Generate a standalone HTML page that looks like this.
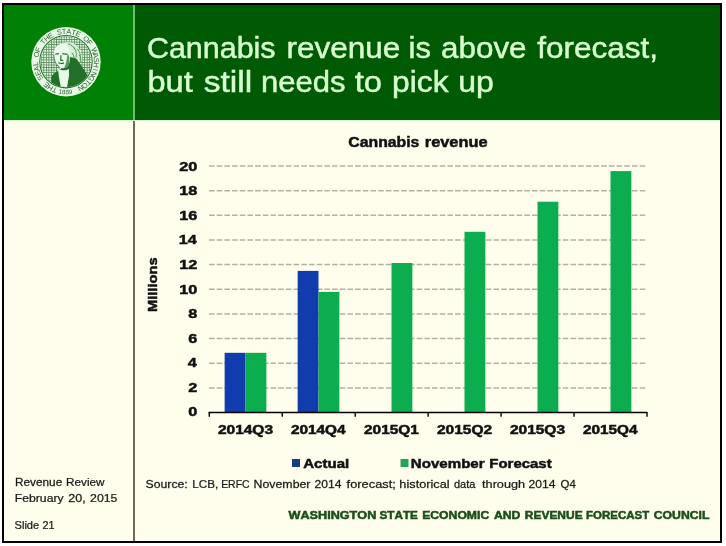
<!DOCTYPE html>
<html><head><meta charset="utf-8">
<style>
html,body{margin:0;padding:0;background:#fff;width:726px;height:546px;overflow:hidden}
svg{display:block;will-change:transform}
text{font-family:"Liberation Sans",sans-serif;font-kerning:none;font-variant-ligatures:none}
</style></head><body>
<svg width="726" height="546" viewBox="0 0 726 546">
<rect x="2" y="3" width="720" height="540" fill="#000"/>
<rect x="4" y="5" width="716" height="536" fill="#fffeec"/>
<rect x="4" y="5" width="129" height="115" fill="#008005"/>
<rect x="135" y="5" width="585" height="115" fill="#005a03"/>
<rect x="133" y="5" width="2" height="115" fill="#6abf6e"/>
<rect x="4" y="120" width="716" height="1" fill="#d4f2cc"/>
<rect x="133" y="121" width="2" height="420" fill="#706a5a"/>
<g transform="translate(66,61.7)"><defs>
<pattern id="grid" width="2.55" height="2.55" patternUnits="userSpaceOnUse" x="0.3" y="0.3"><rect width="2.55" height="2.55" fill="#407a44"/><rect x="0.65" y="0.65" width="1.9" height="1.9" fill="#e0f6e0"/></pattern>
<clipPath id="inner"><circle r="25.4"/></clipPath>
</defs>
<circle r="34.7" fill="#e4f8e4"/>
<circle r="26.2" fill="none" stroke="#23702a" stroke-width="1.1"/>
<g clip-path="url(#inner)">
<rect x="-26" y="-26" width="52" height="52" fill="url(#grid)"/>
<path d="M-10,-12 C-8,-19 2,-21 8,-18 C13,-15 16,-9 16,-4 C16,0 13,2 10,2 L3,-2 Z" fill="#d6f0d6"/>
<path d="M7,-15 C10,-12 11,-8 10,-4 M11,-13 C14,-10 15,-6 14,-2 M6,-9 C8,-6 9,-3 8,0 M13,-7 C15,-5 15,-2 14,1 M2,-18 C5,-17 8,-15 9,-12" stroke="#4a8e50" stroke-width="0.9" fill="none"/>
<path d="M1.5,-5 C5,-5 8,-4 10.5,-3 C14,2 19,9 23,16 L25,26 L-15,26 L-14.5,15 C-12.5,11 -9,10 -6,8 L-2,5 Z" fill="#23702a"/>
<path d="M-12,-10 C-11,-16.5 -5,-19 0,-17.5 C3.5,-14.5 4.5,-8 4,-2 C3.5,3 0.5,6.5 -3,6.5 C-7,6.5 -10,3 -11.5,-1 C-12.5,-4 -12.8,-7 -12,-10 Z" fill="#eafaea"/>
<path d="M1.5,-9 C3.5,-6 4,-1 3,3 C2,5 0,6.5 -2,6.5 C0,3 1,-2 1.5,-9 Z" fill="#5a9a60"/>
<path d="M-10.7,-7.6 L-7.2,-8 M-3.7,-8 L1,-7.4 M-5,-6.5 L-5.3,-1.5 L-2.8,-1 M-7.8,1 C-5.5,2 -3.5,2 -2,1" stroke="#23702a" stroke-width="1.2" fill="none"/>
<path d="M-12.2,-7 C-12.2,-2 -10.5,2.5 -6.5,5.5" stroke="#3c7c42" stroke-width="1" fill="none"/>
<path d="M-8,7 C-4,9 0,9 3,7 L3,14 L1,26 L-5,26 L-7,16 Z" fill="#e8fae8"/>
</g>
<g font-family="Liberation Serif" font-size="7.2" fill="#2e5e32" text-anchor="middle">
<text transform="translate(-10.45,25.87) rotate(202.0)">T</text>
<text transform="translate(-14.41,23.89) rotate(211.1)">H</text>
<text transform="translate(-18.00,21.32) rotate(220.2)">E</text>
<text transform="translate(-23.75,14.64) rotate(238.4)">S</text>
<text transform="translate(-25.77,10.70) rotate(247.4)">E</text>
<text transform="translate(-27.13,6.50) rotate(256.5)">A</text>
<text transform="translate(-27.82,2.13) rotate(265.6)">L</text>
<text transform="translate(-27.10,-6.65) rotate(283.8)">O</text>
<text transform="translate(-25.70,-10.85) rotate(292.9)">F</text>
<text transform="translate(-21.04,-18.33) rotate(311.1)">T</text>
<text transform="translate(-17.88,-21.42) rotate(320.1)">H</text>
<text transform="translate(-14.27,-23.97) rotate(329.2)">E</text>
<text transform="translate(-6.08,-27.23) rotate(347.4)">S</text>
<text transform="translate(-1.70,-27.85) rotate(356.5)">T</text>
<text transform="translate(2.72,-27.77) rotate(365.6)">A</text>
<text transform="translate(7.07,-26.99) rotate(374.7)">T</text>
<text transform="translate(11.24,-25.53) rotate(383.8)">E</text>
<text transform="translate(18.65,-20.75) rotate(401.9)">O</text>
<text transform="translate(21.69,-17.55) rotate(411.0)">F</text>
<text transform="translate(26.08,-9.90) rotate(429.2)">W</text>
<text transform="translate(27.32,-5.66) rotate(438.3)">A</text>
<text transform="translate(27.87,-1.27) rotate(447.4)">S</text>
<text transform="translate(27.72,3.14) rotate(456.5)">H</text>
<text transform="translate(26.88,7.48) rotate(465.6)">I</text>
<text transform="translate(25.36,11.64) rotate(474.6)">N</text>
<text transform="translate(23.20,15.49) rotate(483.7)">G</text>
<text transform="translate(20.46,18.96) rotate(492.8)">T</text>
<text transform="translate(17.21,21.96) rotate(501.9)">O</text>
<text transform="translate(13.53,24.40) rotate(511.0)">N</text>
<text transform="translate(-5.94,32.05) rotate(10.5)" font-size="6.3">1</text>
<text transform="translate(-2.39,32.51) rotate(4.2)" font-size="6.3">8</text>
<text transform="translate(1.19,32.58) rotate(-2.1)" font-size="6.3">8</text>
<text transform="translate(4.76,32.25) rotate(-8.4)" font-size="6.3">9</text>
</g></g>
<g stroke="#b4b0a6" stroke-width="1.5" stroke-dasharray="5.6,2.09">
<line x1="209" y1="387.9" x2="647" y2="387.9"/>
<line x1="209" y1="363.2" x2="647" y2="363.2"/>
<line x1="209" y1="338.6" x2="647" y2="338.6"/>
<line x1="209" y1="313.9" x2="647" y2="313.9"/>
<line x1="209" y1="289.2" x2="647" y2="289.2"/>
<line x1="209" y1="264.6" x2="647" y2="264.6"/>
<line x1="209" y1="240.0" x2="647" y2="240.0"/>
<line x1="209" y1="215.3" x2="647" y2="215.3"/>
<line x1="209" y1="190.7" x2="647" y2="190.7"/>
<line x1="209" y1="166.0" x2="647" y2="166.0"/>
</g>
<g fill="#103cae">
<rect x="224.64" y="352.80" width="20.86" height="59.70"/>
<rect x="297.64" y="270.90" width="20.86" height="141.60"/>
</g><g fill="#0cad4e">
<rect x="245.50" y="352.80" width="20.86" height="59.70"/>
<rect x="318.50" y="291.90" width="20.86" height="120.60"/>
<rect x="391.50" y="263.00" width="20.86" height="149.50"/>
<rect x="464.50" y="231.80" width="20.86" height="180.70"/>
<rect x="537.50" y="201.70" width="20.86" height="210.80"/>
<rect x="610.50" y="171.10" width="20.86" height="241.40"/>
</g>
<g stroke="#000" stroke-width="1.4">
<line x1="208.6" y1="412.5" x2="647.2" y2="412.5"/>
<line x1="209.3" y1="412" x2="209.3" y2="416.8"/>
<line x1="282.25" y1="412" x2="282.25" y2="416.8"/>
<line x1="355.2" y1="412" x2="355.2" y2="416.8"/>
<line x1="428.15" y1="412" x2="428.15" y2="416.8"/>
<line x1="501.1" y1="412" x2="501.1" y2="416.8"/>
<line x1="574.05" y1="412" x2="574.05" y2="416.8"/>
<line x1="647.0" y1="412" x2="647.0" y2="416.8"/>
</g>
<rect x="292" y="459" width="8" height="8" fill="#163a84"/>
<rect x="400.5" y="459" width="8" height="8" fill="#28a458"/>
<text transform="translate(146.91,58) scale(1.0157,1)" font-size="30" stroke="#d8ffd0" stroke-width="0.45" fill="#d8ffd0">Cannabis</text>
<text transform="translate(286.42,58) scale(1.0503,1)" font-size="30" stroke="#d8ffd0" stroke-width="0.45" fill="#d8ffd0">revenue</text>
<text transform="translate(408.61,58) scale(1.0310,1)" font-size="30" stroke="#d8ffd0" stroke-width="0.45" fill="#d8ffd0">is</text>
<text transform="translate(441.08,58) scale(1.0461,1)" font-size="30" stroke="#d8ffd0" stroke-width="0.45" fill="#d8ffd0">above</text>
<text transform="translate(537.23,58) scale(1.0512,1)" font-size="30" stroke="#d8ffd0" stroke-width="0.45" fill="#d8ffd0">forecast,</text>
<text transform="translate(147.46,91.5) scale(1.0864,1)" font-size="30" stroke="#d8ffd0" stroke-width="0.45" fill="#d8ffd0">but</text>
<text transform="translate(203.67,91.5) scale(1.1186,1)" font-size="30" stroke="#d8ffd0" stroke-width="0.45" fill="#d8ffd0">still</text>
<text transform="translate(261.07,91.5) scale(1.0340,1)" font-size="30" stroke="#d8ffd0" stroke-width="0.45" fill="#d8ffd0">needs</text>
<text transform="translate(354.70,91.5) scale(1.0902,1)" font-size="30" stroke="#d8ffd0" stroke-width="0.45" fill="#d8ffd0">to</text>
<text transform="translate(392.10,91.5) scale(1.0575,1)" font-size="30" stroke="#d8ffd0" stroke-width="0.45" fill="#d8ffd0">pick</text>
<text transform="translate(458.33,91.5) scale(1.0668,1)" font-size="30" stroke="#d8ffd0" stroke-width="0.45" fill="#d8ffd0">up</text>
<text transform="translate(348.30,146.8) scale(1.0893,1)" font-size="14.5" font-weight="bold" stroke="#111111" stroke-width="0.5" fill="#111111">Cannabis</text>
<text transform="translate(424.77,146.8) scale(1.1300,1)" font-size="14.5" font-weight="bold" stroke="#111111" stroke-width="0.5" fill="#111111">revenue</text>
<text transform="translate(179.34,170.8) scale(1.2005,1)" font-size="13.5" font-weight="bold" stroke="#111111" stroke-width="0.5" fill="#111111">20</text>
<text transform="translate(179.17,195.3) scale(1.2005,1)" font-size="13.5" font-weight="bold" stroke="#111111" stroke-width="0.5" fill="#111111">18</text>
<text transform="translate(179.26,219.9) scale(1.2005,1)" font-size="13.5" font-weight="bold" stroke="#111111" stroke-width="0.5" fill="#111111">16</text>
<text transform="translate(178.76,244.4) scale(1.2005,1)" font-size="13.5" font-weight="bold" stroke="#111111" stroke-width="0.5" fill="#111111">14</text>
<text transform="translate(179.32,269.0) scale(1.2005,1)" font-size="13.5" font-weight="bold" stroke="#111111" stroke-width="0.5" fill="#111111">12</text>
<text transform="translate(179.34,293.6) scale(1.2005,1)" font-size="13.5" font-weight="bold" stroke="#111111" stroke-width="0.5" fill="#111111">10</text>
<text transform="translate(188.19,318.1) scale(1.2005,1)" font-size="13.5" font-weight="bold" stroke="#111111" stroke-width="0.5" fill="#111111">8</text>
<text transform="translate(188.27,342.7) scale(1.2005,1)" font-size="13.5" font-weight="bold" stroke="#111111" stroke-width="0.5" fill="#111111">6</text>
<text transform="translate(187.77,367.2) scale(1.2005,1)" font-size="13.5" font-weight="bold" stroke="#111111" stroke-width="0.5" fill="#111111">4</text>
<text transform="translate(188.34,391.8) scale(1.2005,1)" font-size="13.5" font-weight="bold" stroke="#111111" stroke-width="0.5" fill="#111111">2</text>
<text transform="translate(188.35,416.4) scale(1.2005,1)" font-size="13.5" font-weight="bold" stroke="#111111" stroke-width="0.5" fill="#111111">0</text>
<text transform="translate(217.96,434.1) scale(1.2587,1)" font-size="12.3" font-weight="bold" stroke="#111111" stroke-width="0.5" fill="#111111">2014Q3</text>
<text transform="translate(290.97,434.1) scale(1.2477,1)" font-size="12.3" font-weight="bold" stroke="#111111" stroke-width="0.5" fill="#111111">2014Q4</text>
<text transform="translate(363.96,434.1) scale(1.2558,1)" font-size="12.3" font-weight="bold" stroke="#111111" stroke-width="0.5" fill="#111111">2015Q1</text>
<text transform="translate(436.96,434.1) scale(1.2602,1)" font-size="12.3" font-weight="bold" stroke="#111111" stroke-width="0.5" fill="#111111">2015Q2</text>
<text transform="translate(509.96,434.1) scale(1.2587,1)" font-size="12.3" font-weight="bold" stroke="#111111" stroke-width="0.5" fill="#111111">2015Q3</text>
<text transform="translate(582.97,434.1) scale(1.2477,1)" font-size="12.3" font-weight="bold" stroke="#111111" stroke-width="0.5" fill="#111111">2015Q4</text>
<g transform="rotate(-90)"><text transform="translate(-311.98,156.7) scale(1.1280,1)" font-size="13" font-weight="bold" stroke="#111111" stroke-width="0.5" fill="#111111">Millions</text></g>
<text transform="translate(303.17,468.0) scale(1.1589,1)" font-size="13" font-weight="bold" stroke="#111111" stroke-width="0.5" fill="#111111">Actual</text>
<text transform="translate(410.85,468.1) scale(1.1611,1)" font-size="13" font-weight="bold" stroke="#111111" stroke-width="0.5" fill="#111111">November</text>
<text transform="translate(489.34,468.1) scale(1.1497,1)" font-size="13" font-weight="bold" stroke="#111111" stroke-width="0.5" fill="#111111">Forecast</text>
<text transform="translate(145.59,488.1) scale(1.0643,1)" font-size="11.5" stroke="#1a1a1a" stroke-width="0.25" fill="#1a1a1a">Source:</text>
<text transform="translate(192.32,488.1) scale(1.0154,1)" font-size="11.5" stroke="#1a1a1a" stroke-width="0.25" fill="#1a1a1a">LCB,</text>
<text transform="translate(221.13,488.1) scale(0.9100,1)" font-size="11.5" stroke="#1a1a1a" stroke-width="0.25" fill="#1a1a1a">ERFC</text>
<text transform="translate(253.57,488.1) scale(1.0737,1)" font-size="11.5" stroke="#1a1a1a" stroke-width="0.25" fill="#1a1a1a">November</text>
<text transform="translate(314.51,488.1) scale(1.0522,1)" font-size="11.5" stroke="#1a1a1a" stroke-width="0.25" fill="#1a1a1a">2014</text>
<text transform="translate(346.59,488.1) scale(1.1175,1)" font-size="11.5" stroke="#1a1a1a" stroke-width="0.25" fill="#1a1a1a">forecast;</text>
<text transform="translate(399.37,488.1) scale(1.1069,1)" font-size="11.5" stroke="#1a1a1a" stroke-width="0.25" fill="#1a1a1a">historical</text>
<text transform="translate(453.95,488.1) scale(0.9582,1)" font-size="11.5" stroke="#1a1a1a" stroke-width="0.25" fill="#1a1a1a">data</text>
<text transform="translate(482.04,488.1) scale(1.1063,1)" font-size="11.5" stroke="#1a1a1a" stroke-width="0.25" fill="#1a1a1a">through</text>
<text transform="translate(528.51,488.1) scale(1.0522,1)" font-size="11.5" stroke="#1a1a1a" stroke-width="0.25" fill="#1a1a1a">2014</text>
<text transform="translate(560.53,488.1) scale(0.9924,1)" font-size="11.5" stroke="#1a1a1a" stroke-width="0.25" fill="#1a1a1a">Q4</text>
<text transform="translate(14.93,485.6) scale(1.0766,1)" font-size="11" stroke="#1a1a1a" stroke-width="0.25" fill="#1a1a1a">Revenue</text>
<text transform="translate(66.09,485.6) scale(1.0654,1)" font-size="11" stroke="#1a1a1a" stroke-width="0.25" fill="#1a1a1a">Review</text>
<text transform="translate(14.74,502.2) scale(1.1119,1)" font-size="11" stroke="#1a1a1a" stroke-width="0.25" fill="#1a1a1a">February</text>
<text transform="translate(68.29,502.2) scale(1.1387,1)" font-size="11" stroke="#1a1a1a" stroke-width="0.25" fill="#1a1a1a">20,</text>
<text transform="translate(90.09,502.2) scale(1.1160,1)" font-size="11" stroke="#1a1a1a" stroke-width="0.25" fill="#1a1a1a">2015</text>
<text transform="translate(14.58,528.5) scale(1.0069,1)" font-size="11" stroke="#1a1a1a" stroke-width="0.25" fill="#1a1a1a">Slide</text>
<text transform="translate(42.52,528.5) scale(0.9839,1)" font-size="11" stroke="#1a1a1a" stroke-width="0.25" fill="#1a1a1a">21</text>
<text transform="translate(288.55,518.6) scale(1.2049,1)" font-size="10.5" font-weight="bold" stroke="#1b4f1b" stroke-width="0.5" fill="#1b4f1b">WASHINGTON</text>
<text transform="translate(379.45,518.6) scale(1.1193,1)" font-size="10.5" font-weight="bold" stroke="#1b4f1b" stroke-width="0.5" fill="#1b4f1b">STATE</text>
<text transform="translate(422.16,518.6) scale(1.1618,1)" font-size="10.5" font-weight="bold" stroke="#1b4f1b" stroke-width="0.5" fill="#1b4f1b">ECONOMIC</text>
<text transform="translate(493.96,518.6) scale(1.1645,1)" font-size="10.5" font-weight="bold" stroke="#1b4f1b" stroke-width="0.5" fill="#1b4f1b">AND</text>
<text transform="translate(524.81,518.6) scale(1.1395,1)" font-size="10.5" font-weight="bold" stroke="#1b4f1b" stroke-width="0.5" fill="#1b4f1b">REVENUE</text>
<text transform="translate(586.00,518.6) scale(1.0954,1)" font-size="10.5" font-weight="bold" stroke="#1b4f1b" stroke-width="0.5" fill="#1b4f1b">FORECAST</text>
<text transform="translate(653.78,518.6) scale(1.1649,1)" font-size="10.5" font-weight="bold" stroke="#1b4f1b" stroke-width="0.5" fill="#1b4f1b">COUNCIL</text>
</svg>
</body></html>
